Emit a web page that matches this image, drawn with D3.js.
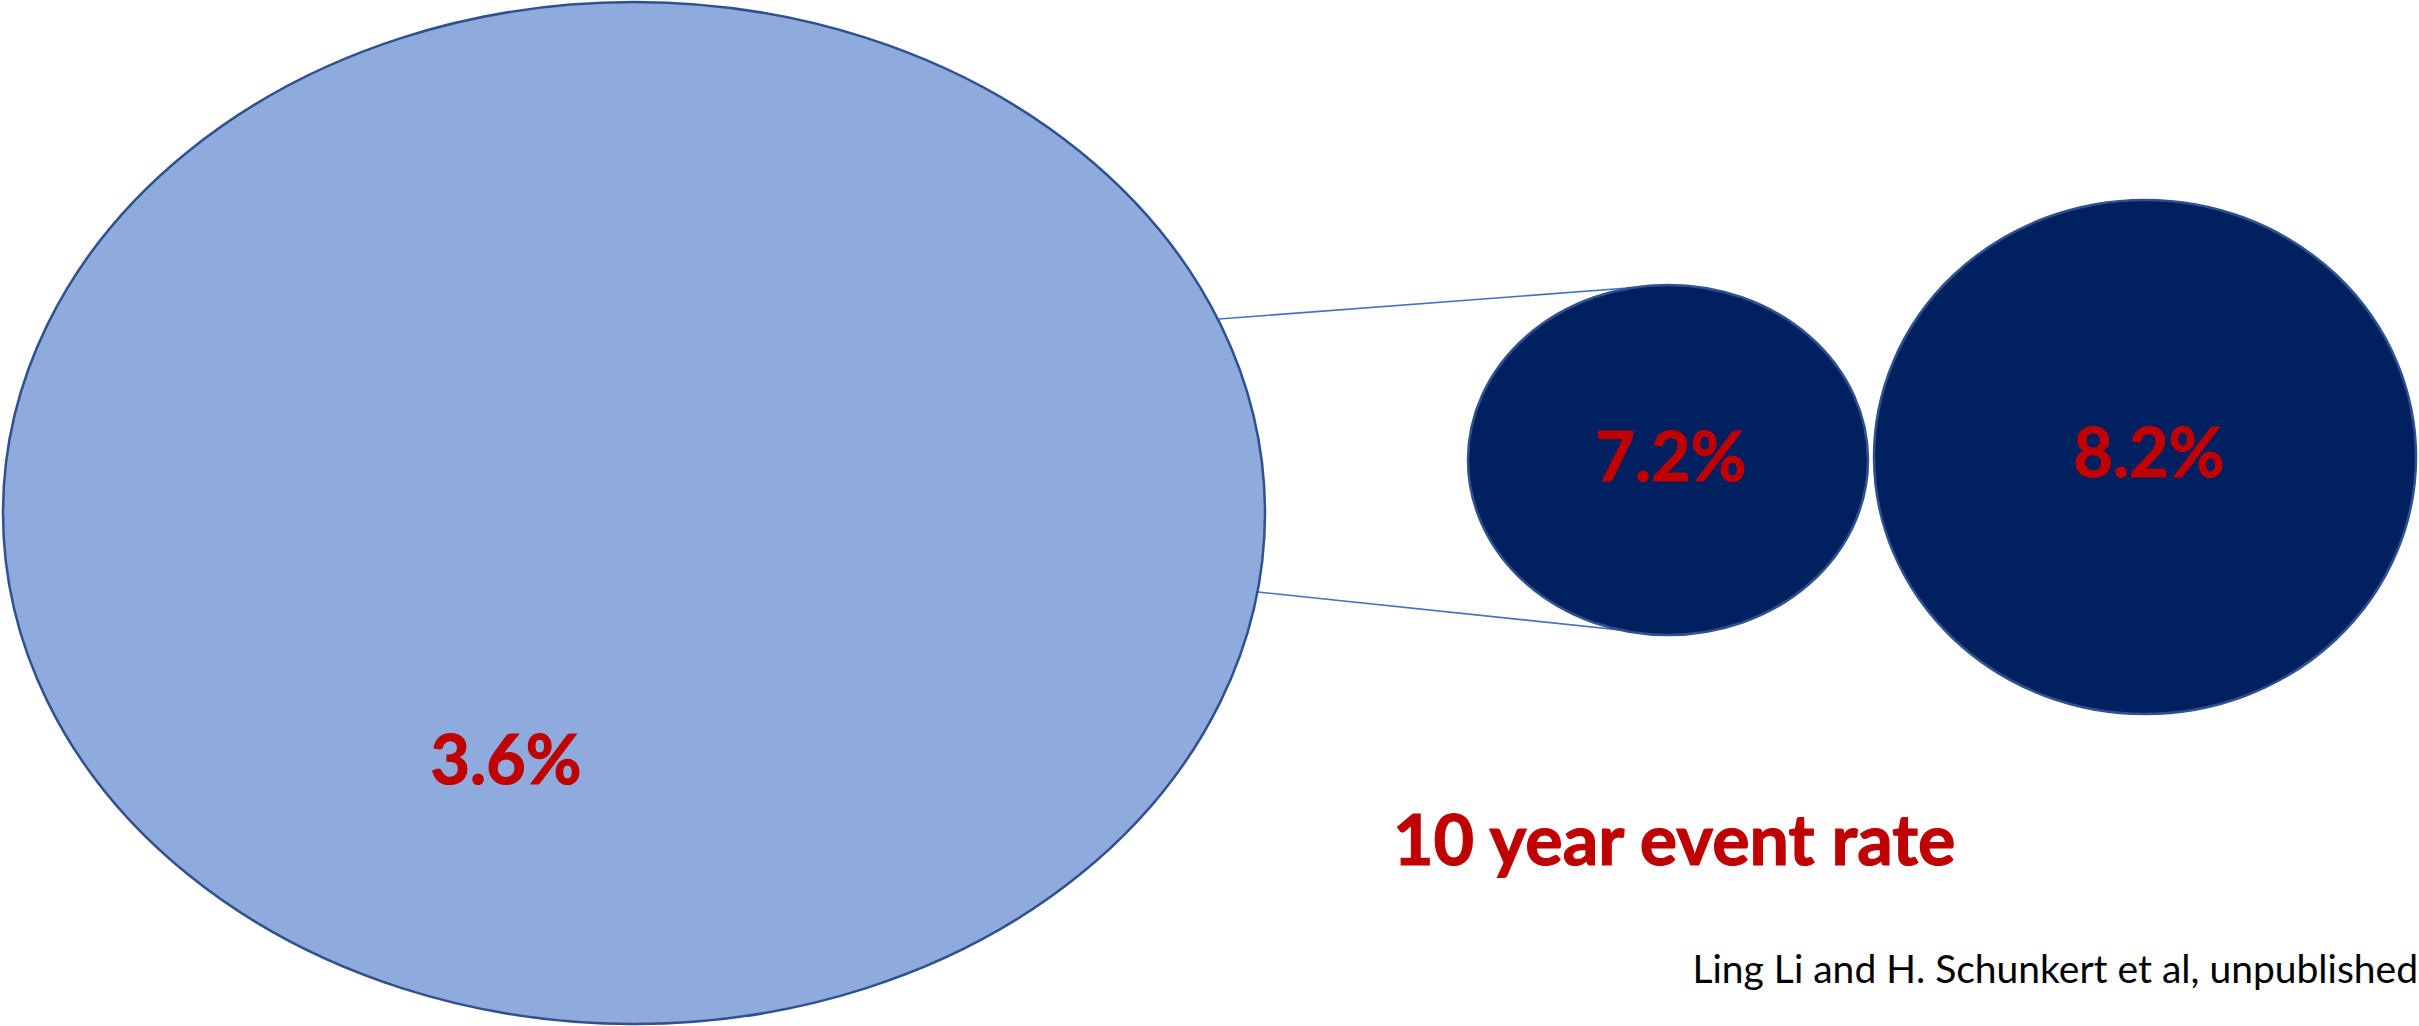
<!DOCTYPE html>
<html>
<head>
<meta charset="utf-8">
<script src="https://cdn.jsdelivr.net/npm/d3@7"></script>
<style>
  html, body { margin: 0; padding: 0; background: #ffffff; }
  svg { display: block; }
</style>
</head>
<body>
<svg id="chart" width="2419" height="1026"></svg>
<script>
// Groups shown as ellipses and their 10 year event rates (%)
const groups = ["All", "Subgroup A", "Subgroup B"];
const eventRates = [3.6, 7.2, 8.2];
const caption = "10 year event rate";
const source = "Ling Li and H. Schunkert et al, unpublished";

const W = 2419, H = 1026;
const svg = d3.select("#chart");

// Ellipse geometry per group (pixels)
const shapes = [
  { cx: 634,  cy: 513, rx: 631, ry: 511, fill: "#8FAADC", lx: 506,  ly: 784 },
  { cx: 1668, cy: 460, rx: 200, ry: 175, fill: "#002060", lx: 1671, ly: 481 },
  { cx: 2145, cy: 457, rx: 271, ry: 257, fill: "#002060", lx: 2149, ly: 477 }
];

const data = groups.map((g, i) => Object.assign({ group: g, rate: eventRates[i] }, shapes[i]));
const fmt = d => d3.format(".1f")(d) + "%";

// Connector lines from the large ellipse to the top and bottom of the subgroup ellipse
const connectors = [
  { x1: 1219, y1: 319, x2: 1668, y2: 285 },
  { x1: 1258, y1: 592, x2: 1668, y2: 635 }
];
svg.selectAll("line.connector")
  .data(connectors)
  .join("line")
  .attr("class", "connector")
  .attr("x1", d => d.x1).attr("y1", d => d.y1)
  .attr("x2", d => d.x2).attr("y2", d => d.y2)
  .attr("stroke", "#4472C4")
  .attr("stroke-width", 1.6);

svg.selectAll("ellipse.group")
  .data(data)
  .join("ellipse")
  .attr("class", "group")
  .attr("cx", d => d.cx).attr("cy", d => d.cy)
  .attr("rx", d => d.rx).attr("ry", d => d.ry)
  .attr("fill", d => d.fill)
  .attr("stroke", "#2F528F")
  .attr("stroke-width", 2.5);

svg.selectAll("text.rate")
  .data(data)
  .join("text")
  .attr("class", "rate")
  .attr("x", d => d.lx).attr("y", d => d.ly)
  .attr("text-anchor", "middle")
  .attr("font-family", "Lato, 'Open Sans', sans-serif")
  .attr("font-weight", 700)
  .attr("font-size", 68)
  .attr("fill", "#C00000")
  .attr("stroke", "#C00000")
  .attr("stroke-width", 1.2)
  .text(d => fmt(d.rate));

svg.append("text")
  .attr("x", 1393).attr("y", 865)
  .attr("font-family", "Lato, 'Open Sans', sans-serif")
  .attr("font-weight", 700)
  .attr("font-size", 70)
  .attr("fill", "#C00000")
  .attr("stroke", "#C00000")
  .attr("stroke-width", 1.2)
  .text(caption);

svg.append("text")
  .attr("x", 2418).attr("y", 983)
  .attr("text-anchor", "end")
  .attr("font-family", "Lato, 'Open Sans', sans-serif")
  .attr("font-weight", 400)
  .attr("font-size", 39)
  .attr("fill", "#000000")
  .text(source);
</script>
</body>
</html>
